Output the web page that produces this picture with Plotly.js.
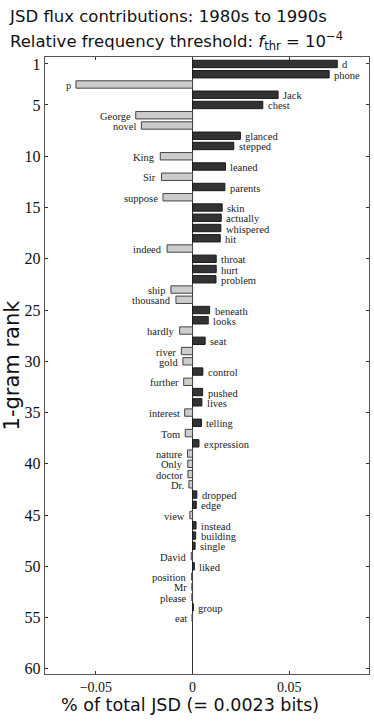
<!DOCTYPE html>
<html>
<head>
<meta charset="utf-8">
<script src="https://cdn.plot.ly/plotly-3.0.1.min.js"></script>
<style>
  html, body { margin: 0; padding: 0; background: #fff; }
  #chart { width: 374px; height: 724px; }
</style>
</head>
<body>
<div id="chart"></div>
<script>
// 1-gram words by rank and their share of the JSD (% of total)
const words = ['d', 'phone', 'p', 'Jack', 'chest', 'George', 'novel', 'glanced', 'stepped', 'King',
    'leaned', 'Sir', 'parents', 'suppose', 'skin', 'actually', 'whispered', 'hit', 'indeed', 'throat',
    'hurt', 'problem', 'ship', 'thousand', 'beneath', 'looks', 'hardly', 'seat', 'river', 'gold',
    'control', 'further', 'pushed', 'lives', 'interest', 'telling', 'Tom', 'expression', 'nature', 'Only',
    'doctor', 'Dr.', 'dropped', 'edge', 'view', 'instead', 'building', 'single', 'David', 'liked',
    'position', 'Mr', 'please', 'group', 'eat'];
const contrib = [0.0748, 0.0706, -0.0603, 0.0442, 0.0363, -0.0294, -0.0265, 0.0247, 0.0213, -0.0167,
    0.0170, -0.0161, 0.0167, -0.0153, 0.0153, 0.0148, 0.0146, 0.0143, -0.0132, 0.0122,
    0.0122, 0.0121, -0.0112, -0.0086, 0.0088, 0.0081, -0.0067, 0.0065, -0.0058, -0.0050,
    0.0053, -0.0046, 0.0052, 0.0048, -0.0041, 0.0046, -0.0038, 0.0033, -0.0026, -0.0025,
    -0.0024, -0.0019, 0.0022, 0.0019, -0.0014, 0.0018, 0.0016, 0.0013, -0.0007, 0.0009,
    -0.0005, -0.0004, -0.0004, 0.0004, -0.0003];
const ranks = words.map((w, i) => i + 1);
const rankTicks = [1, 5, 10, 15, 20, 25, 30, 35, 40, 45, 50, 55, 60];

let pos = { x: [], y: [] };
let neg = { x: [], y: [] };
contrib.forEach((v, i) => {
    let target = v >= 0 ? pos : neg;
    target.x.push(v);
    target.y.push(ranks[i]);
});

let barStyle = { type: 'bar', orientation: 'h', width: 0.72, hoverinfo: 'skip' };

let posTrace = Object.assign({}, barStyle, {
    x: pos.x, y: pos.y,
    marker: { color: '#333333', line: { color: '#1a1a1a', width: 1 } }
});
let negTrace = Object.assign({}, barStyle, {
    x: neg.x, y: neg.y,
    marker: { color: '#cccccc', line: { color: '#444444', width: 1 } }
});

// word labels just past the end of each bar
let labels = words.map((w, i) => ({
    x: contrib[i], y: ranks[i], text: w,
    xref: 'x', yref: 'y', showarrow: false,
    xanchor: contrib[i] >= 0 ? 'left' : 'right',
    xshift: contrib[i] >= 0 ? 4 : -4,
    yshift: -1,
    borderpad: 0,
    font: { family: 'Liberation Serif', size: 10.5, color: '#222' }
}));

// second title line, placed on its own for the wider line spacing
labels.push({
    text: 'Relative frequency threshold: <i>f</i><sub>thr</sub> = 10<sup>−4</sup>',
    xref: 'paper', yref: 'paper', x: -0.115, y: 1.026,
    xanchor: 'left', yanchor: 'middle', showarrow: false,
    font: { family: 'DejaVu Sans', size: 16.5, color: '#111' }
});

// x axis title, a little left of the plot centre as in the original
labels.push({
    text: '% of total JSD (= 0.0023 bits)',
    xref: 'paper', yref: 'paper', x: 0.449, y: -0.050,
    xanchor: 'center', yanchor: 'middle', showarrow: false,
    font: { family: 'DejaVu Sans', size: 17.5, color: '#111' }
});

let layout = {
    width: 374, height: 724,
    margin: { l: 45, r: 5, t: 57, b: 50 },
    paper_bgcolor: '#fff', plot_bgcolor: '#fff',
    showlegend: false,
    barmode: 'overlay',
    title: {
        text: 'JSD flux contributions: 1980s to 1990s',
        font: { family: 'DejaVu Sans', size: 16.5, color: '#111' },
        x: 0.027, xanchor: 'left',
        yref: 'container', y: 0.978, yanchor: 'middle'
    },
    xaxis: {
        range: [-0.0763, 0.0912],
        tickvals: [-0.05, 0, 0.05],
        ticktext: ['−0.05', '0', '0.05'],
        ticks: 'inside', ticklen: 3, tickcolor: '#333',
        mirror: 'allticks', showline: true, linecolor: '#555', linewidth: 1.3,
        showgrid: false,
        zeroline: true, zerolinecolor: '#333', zerolinewidth: 1,
        tickfont: { family: 'Liberation Serif', size: 14, color: '#111' }
    },
    yaxis: {
        range: [60.5, 0.32],
        tickvals: rankTicks,
        ticks: 'inside', ticklen: 3, tickcolor: '#333',
        mirror: 'allticks', showline: true, linecolor: '#555', linewidth: 1.3,
        showgrid: false, zeroline: false,
        tickfont: { family: 'Liberation Serif', size: 16, color: '#111' },
        title: {
            text: '1-gram rank',
            font: { family: 'DejaVu Sans', size: 21, color: '#111' },
            standoff: 2
        }
    },
    annotations: labels
};

Plotly.newPlot('chart', [posTrace, negTrace], layout, { displayModeBar: false, staticPlot: true });
</script>
</body>
</html>
